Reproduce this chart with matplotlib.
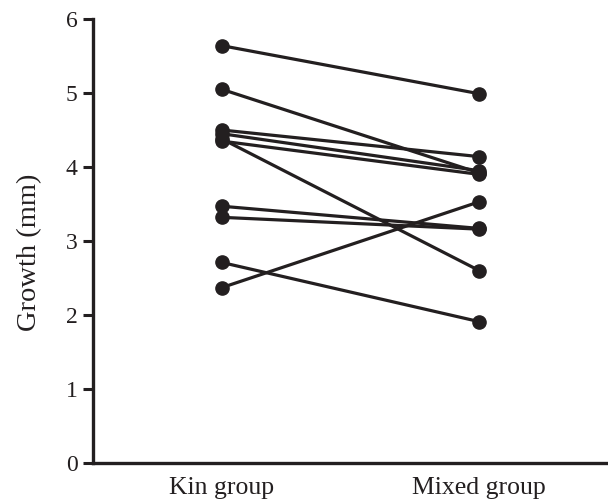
import matplotlib
matplotlib.use("Agg")
import matplotlib.pyplot as plt

groups = ["Kin group", "Mixed group"]
kin = [5.64, 5.05, 4.50, 4.45, 4.38, 4.35, 3.47, 3.32, 2.71, 2.37]
mixed = [4.99, 3.92, 4.14, 3.95, 2.60, 3.90, 3.17, 3.16, 1.91, 3.53]
yticks = [0, 1, 2, 3, 4, 5, 6]

plt.rcParams['font.family'] = ['Liberation Serif', 'DejaVu Serif']
fig = plt.figure(figsize=(6.08, 5.0), dpi=100)
ax = fig.add_axes([0.153, 0.074, 0.847, 0.888])
col = '#231f20'
for a, b in zip(kin, mixed):
    ax.plot([0, 1], [a, b], color=col, lw=2.3, marker='o', markersize=9.5,
            solid_capstyle='round', clip_on=False)

ax.set_xlim(-0.5, 1.5)
ax.set_ylim(0, 6)
ax.set_yticks(yticks)
ax.set_xticks([0, 1])
ax.set_xticklabels(groups, fontsize=18.5, color=col)
ax.tick_params(axis='x', length=0, pad=10)
ax.tick_params(axis='y', length=7, width=2.2, labelsize=17, colors=col, pad=4)
for s in ['top', 'right']:
    ax.spines[s].set_visible(False)
for s in ['left', 'bottom']:
    ax.spines[s].set_linewidth(2.4)
    ax.spines[s].set_color(col)
ax.set_ylabel("Growth (mm)", fontsize=20.5, color=col)
ax.yaxis.set_label_coords(-0.099, 0.475)
fig.savefig("out.png", dpi=100)
